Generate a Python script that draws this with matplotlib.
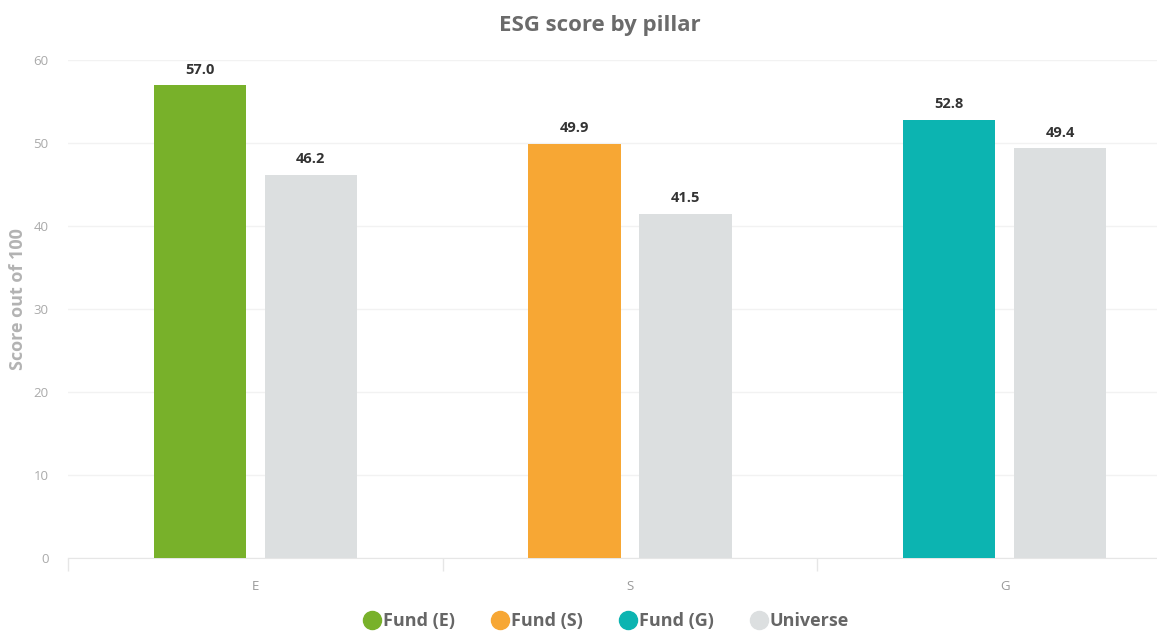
import numpy as np
import matplotlib
matplotlib.use("Agg")
import matplotlib.pyplot as plt
from matplotlib.lines import Line2D

# data
pillars = ["E", "S", "G"]
fund_scores = [57.0, 49.9, 52.8]
universe_scores = [46.2, 41.5, 49.4]
fund_labels = ["Fund (E)", "Fund (S)", "Fund (G)"]
fund_colors = ["#78b12a", "#f7a734", "#0cb4b1"]
universe_color = "#dcdfe0"

plt.rcParams["font.family"] = ["Open Sans", "DejaVu Sans"]

W, H = 1157, 632
fig = plt.figure(figsize=(W / 100, H / 100), dpi=100)
ax = fig.add_axes([68 / W, 1 - 558 / H, (W - 68) / W, (558 - 60) / H])

x = np.arange(len(pillars))
width = 0.246
off = 0.148

fund_bars = ax.bar(x - off, fund_scores, width, color=fund_colors, zorder=3)
uni_bars = ax.bar(x + off, universe_scores, width, color=universe_color, zorder=3)

for bars in (fund_bars, uni_bars):
    for b in bars:
        ax.annotate(f"{b.get_height():.1f}", (b.get_x() + b.get_width() / 2, b.get_height()),
                    xytext=(0, 6), textcoords="offset points", ha="center", va="bottom",
                    fontsize=10.5, fontweight="bold", color="#333333")

ax.set_xlim(-0.5, (W - 257) / 374)
ax.set_ylim(0, 60)
ax.set_yticks(np.arange(0, 61, 10))
ax.set_xticks(x)
ax.set_xticklabels(pillars)
ax.set_xticks([-0.5, 0.5, 1.5], minor=True)
ax.tick_params(axis="x", which="major", length=0, pad=16, labelsize=9.5, labelcolor="#999999")
ax.tick_params(axis="x", which="minor", length=9, color="#e6e6e6", width=1)
ax.tick_params(axis="y", length=0, pad=14, labelsize=9.5, labelcolor="#aaaaaa")

ax.grid(axis="y", color="#f2f2f2", linewidth=1, zorder=0)
for side in ("top", "right", "left"):
    ax.spines[side].set_visible(False)
ax.spines["bottom"].set_color("#e6e6e6")

ax.set_ylabel("Score out of 100", fontsize=13, fontweight="bold", color="#b3b3b3")
ax.yaxis.set_label_coords(-0.038, 0.52)
fig.text(600 / W, 1 - 25 / H, "ESG score by pillar", ha="center", va="center",
         fontsize=16, fontweight="bold", color="#6b6b6b")

handles = [Line2D([], [], marker="o", linestyle="", markersize=13, color=c) for c in fund_colors]
handles.append(Line2D([], [], marker="o", linestyle="", markersize=13, color=universe_color))
leg = fig.legend(handles, fund_labels + ["Universe"], loc="center", ncol=4,
                 bbox_to_anchor=(606 / W, 1 - 621 / H), frameon=False,
                 handletextpad=0.1, columnspacing=2.0, handlelength=1.0,
                 prop={"size": 13, "weight": "bold"})
for t in leg.get_texts():
    t.set_color("#666666")

fig.savefig("out.png", dpi=100)
